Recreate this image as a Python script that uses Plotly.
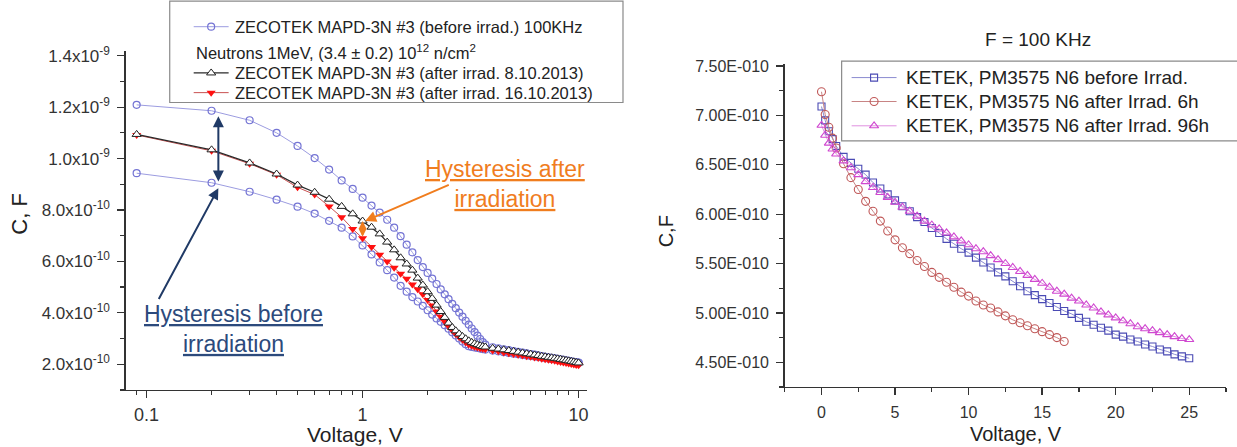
import math
import plotly.graph_objects as go

W, H = 1237, 447

# ---------------- data: left chart (ZECOTEK MAPD-3N), capacitance in pF ----------------
V_left = [0.09, 0.2, 0.3, 0.4, 0.5, 0.6, 0.7, 0.8, 0.9,
          1.0, 1.1, 1.2, 1.3, 1.4, 1.5, 1.6, 1.7, 1.8, 1.9, 2.0, 2.1, 2.2, 2.3, 2.4,
          2.5, 2.6, 2.7, 2.8, 2.9, 3.0, 3.1, 3.2, 3.3, 3.4, 3.5, 3.6, 3.7,
          4.0, 4.25, 4.5, 4.75, 5.0, 5.25, 5.5, 5.75, 6.0, 6.25, 6.5, 6.75, 7.0,
          7.25, 7.5, 7.75, 8.0, 8.25, 8.5, 8.75, 9.0, 9.25, 9.5, 9.75, 10.0]

C_before_up_pF = [1209, 1186, 1149, 1100, 1049, 1002, 957, 915, 882,
                  848, 817, 790, 762, 731, 698, 665, 635, 605, 578, 555, 533, 512, 491, 472,
                  453, 435, 418, 401, 385, 369, 354, 339, 325, 311, 298, 286, 276,
                  266, 262, 258, 255, 251, 248, 245, 242, 239, 237, 234, 232, 229,
                  227, 225, 223, 221, 219, 217, 215, 213, 211, 209, 208, 206]

C_before_down_pF = [943, 906, 871, 840, 813, 786, 758, 731, 697,
                    662, 627, 596, 566, 537, 505, 482, 461, 444, 427, 410, 393, 378, 365, 352,
                    338, 324, 312, 300, 288, 278, 270, 267, 265, 263, 261, 259, 257,
                    253, 250, 247, 244, 241, 239, 236, 234, 232, 230, 228, 226, 224,
                    222, 220, 219, 217, 215, 214, 212, 211, 209, 208, 206, 205]

C_after_0810_pF = [1094, 1034, 983, 940, 897, 869, 842, 814, 785,
                   757, 733, 707, 675, 645, 614, 590, 566, 535, 508, 482, 456, 430, 405, 382,
                   360, 343, 330, 318, 308, 299, 291, 285, 280, 276, 272, 269, 267,
                   262, 259, 256, 253, 250, 247, 244, 241, 239, 236, 234, 231, 229,
                   227, 225, 223, 221, 219, 217, 215, 213, 211, 209, 207, 205]

C_after_1610_pF = [1092, 1030, 980, 937, 888, 860, 814, 772, 726,
                   690, 656, 626, 600, 575, 552, 532, 510, 492, 472, 450, 428, 405, 385, 366,
                   348, 332, 318, 306, 295, 285, 277, 272, 268, 265, 262, 260, 258,
                   253, 250, 246, 243, 240, 237, 234, 231, 229, 226, 224, 221, 219,
                   217, 215, 213, 211, 209, 207, 205, 203, 201, 199, 197, 196]

left_ytick_vals = [2e-10, 4e-10, 6e-10, 8e-10, 1.0e-9, 1.2e-9, 1.4e-9]
left_ytick_text = ["2.0x10<sup>-10</sup>", "4.0x10<sup>-10</sup>", "6.0x10<sup>-10</sup>",
                   "8.0x10<sup>-10</sup>", "1.0x10<sup>-9</sup>", "1.2x10<sup>-9</sup>",
                   "1.4x10<sup>-9</sup>"]
left_xtick_vals = [0.1, 1, 10]
left_xtick_text = ["0.1", "1", "10"]
left_xminor = [0.09, 0.2, 0.3, 0.4, 0.5, 0.6, 0.7, 0.8, 0.9, 2, 3, 4, 5, 6, 7, 8, 9]

left_legend_names = ["ZECOTEK MAPD-3N #3 (before irrad.) 100KHz",
                     "Neutrons 1MeV, (3.4 ± 0.2) 10<sup>12</sup> n/cm<sup>2</sup>",
                     "ZECOTEK MAPD-3N #3 (after irrad. 8.10.2013)",
                     "ZECOTEK MAPD-3N #3 (after irrad. 16.10.2013)"]

# ---------------- data: right chart (KETEK PM3575 N6), capacitance in 1e-10 F ----------------
V_right = [0, 0.25, 0.5, 0.75, 1.0, 1.5, 2.0, 2.5, 3.0, 3.5, 4.0, 4.5, 5.0, 5.5, 6.0, 6.5,
           7.0, 7.5, 8.0, 8.5, 9.0, 9.5, 10.0, 10.5, 11.0, 11.5, 12.0, 12.5, 13.0, 13.5,
           14.0, 14.5, 15.0, 15.5, 16.0, 16.5, 17.0, 17.5, 18.0, 18.5, 19.0, 19.5, 20.0,
           20.5, 21.0, 21.5, 22.0, 22.5, 23.0, 23.5, 24.0, 24.5, 25.0]

C_ketek_before = [7.09, 6.95, 6.84, 6.76, 6.69, 6.58, 6.52, 6.46, 6.40, 6.32, 6.26, 6.20,
                  6.14, 6.08, 6.03, 5.97, 5.92, 5.86, 5.81, 5.75, 5.70, 5.65, 5.61, 5.56,
                  5.51, 5.46, 5.41, 5.37, 5.32, 5.27, 5.22, 5.18, 5.14, 5.10, 5.06, 5.02,
                  4.99, 4.95, 4.91, 4.88, 4.85, 4.82, 4.78, 4.76, 4.73, 4.71, 4.68, 4.66,
                  4.63, 4.61, 4.58, 4.56, 4.54]

C_ketek_6h = [7.24, 7.01, 6.88, 6.77, 6.67, 6.51, 6.37, 6.25, 6.13, 6.03, 5.93, 5.83,
              5.74, 5.66, 5.60, 5.53, 5.47, 5.41, 5.36, 5.31, 5.26, 5.21, 5.17, 5.12,
              5.08, 5.05, 5.01, 4.97, 4.93, 4.90, 4.87, 4.84, 4.81, 4.78, 4.75, 4.71]

C_ketek_96h = [6.90, 6.80, 6.72, 6.66, 6.61, 6.54, 6.47, 6.40, 6.33, 6.27, 6.22, 6.17,
               6.12, 6.07, 6.03, 5.98, 5.93, 5.89, 5.85, 5.81, 5.77, 5.73, 5.69, 5.65,
               5.62, 5.58, 5.54, 5.50, 5.46, 5.42, 5.38, 5.34, 5.30, 5.26, 5.22, 5.19,
               5.15, 5.12, 5.08, 5.05, 5.01, 4.98, 4.95, 4.92, 4.89, 4.86, 4.84, 4.82,
               4.80, 4.78, 4.76, 4.74, 4.73]

right_ytick_vals = [4.5e-10, 5.0e-10, 5.5e-10, 6.0e-10, 6.5e-10, 7.0e-10, 7.5e-10]
right_ytick_text = ["4.50E-010", "5.00E-010", "5.50E-010", "6.00E-010",
                    "6.50E-010", "7.00E-010", "7.50E-010"]

right_legend_names = ["KETEK, PM3575 N6 before Irrad.",
                      "KETEK, PM3575 N6 after Irrad. 6h",
                      "KETEK, PM3575 N6 after Irrad. 96h"]

# ---------------- helpers ----------------
def px(x):
    return x / W

def py(y):
    return 1 - y / H

pF = 1e-12
E10 = 1e-10
FONT = "Liberation Sans, Arial, sans-serif"
AX = "#333333"
TXT = "#222222"

# series styles
ST_BEFORE = dict(line=dict(color="#9c9ce0", width=1),
                 marker=dict(symbol="circle-open", size=7, color="#7474d4", line=dict(width=1.2)))
ST_0810 = dict(line=dict(color="#2a2a2a", width=1.3),
               marker=dict(symbol="triangle-up", size=8, color="white",
                           line=dict(color="#222222", width=1)))
ST_1610 = dict(line=dict(color="#c85050", width=1),
               marker=dict(symbol="triangle-down", size=8, color="#ff1010", line=dict(width=0)))
ST_K0 = dict(line=dict(color="#8a8ad0", width=1),
             marker=dict(symbol="square-open", size=7, color="#4a4ab4", line=dict(width=1.1)))
ST_K6 = dict(line=dict(color="#c88484", width=1),
             marker=dict(symbol="circle-open", size=8, color="#c05858", line=dict(width=1.1)))
ST_K96 = dict(line=dict(color="#e090e0", width=1),
              marker=dict(symbol="triangle-up-open", size=8, color="#d048d0", line=dict(width=1.1)))

fig = go.Figure()

# ---------------- left traces ----------------
fig.add_trace(go.Scatter(
    x=V_left + V_left[::-1],
    y=[c * pF for c in C_before_up_pF] + [c * pF for c in C_before_down_pF[::-1]],
    mode="lines+markers", name=left_legend_names[0], xaxis="x", yaxis="y", **ST_BEFORE))
fig.add_trace(go.Scatter(
    x=V_left, y=[c * pF for c in C_after_1610_pF], mode="lines+markers",
    name=left_legend_names[3], xaxis="x", yaxis="y", **ST_1610))
fig.add_trace(go.Scatter(
    x=V_left, y=[c * pF for c in C_after_0810_pF], mode="lines+markers",
    name=left_legend_names[2], xaxis="x", yaxis="y", **ST_0810))

# ---------------- right traces ----------------
fig.add_trace(go.Scatter(
    x=V_right, y=[c * E10 for c in C_ketek_before], mode="lines+markers",
    name=right_legend_names[0], xaxis="x2", yaxis="y2", **ST_K0))
fig.add_trace(go.Scatter(
    x=V_right[:len(C_ketek_6h)], y=[c * E10 for c in C_ketek_6h], mode="lines+markers",
    name=right_legend_names[1], xaxis="x2", yaxis="y2", **ST_K6))
fig.add_trace(go.Scatter(
    x=V_right, y=[c * E10 for c in C_ketek_96h], mode="lines+markers",
    name=right_legend_names[2], xaxis="x2", yaxis="y2", **ST_K96))

# ---------------- legend keys (drawn on a pixel overlay axis) ----------------
def legend_key(xl0, xl1, ypix, style):
    fig.add_trace(go.Scatter(x=[xl0, xl1], y=[ypix, ypix], mode="lines",
                             line=style["line"], xaxis="x3", yaxis="y3",
                             hoverinfo="skip", showlegend=False))
    fig.add_trace(go.Scatter(x=[(xl0 + xl1) / 2], y=[ypix], mode="markers",
                             marker=style["marker"], xaxis="x3", yaxis="y3",
                             hoverinfo="skip", showlegend=False))

LROWS = [20, 47, 67, 87]
legend_key(194, 229, LROWS[0], ST_BEFORE)
legend_key(194, 229, LROWS[2], ST_0810)
legend_key(194, 229, LROWS[3], ST_1610)
RROWS = [71.7, 96, 120.7]
legend_key(853, 898, RROWS[0], ST_K0)
legend_key(853, 898, RROWS[1], ST_K6)
legend_key(853, 898, RROWS[2], ST_K96)

for tr in fig.data:
    tr.showlegend = False

# ---------------- axes ----------------
common = dict(showline=True, linecolor=AX, linewidth=1.5, ticks="outside",
              ticklen=7, tickwidth=1.3, tickcolor=AX, showgrid=False,
              zeroline=False, mirror=False)
minor_common = dict(ticks="outside", ticklen=4, tickwidth=1.2, tickcolor=AX, showgrid=False)

fig.update_layout(
    width=W, height=H, margin=dict(l=0, r=0, t=0, b=0),
    paper_bgcolor="white", plot_bgcolor="rgba(0,0,0,0)", showlegend=False,
    xaxis=dict(type="log", domain=[px(126), px(588)], range=[-1.096, 1.039],
               anchor="y", tickmode="array", tickvals=left_xtick_vals,
               ticktext=left_xtick_text, ticklabelstandoff=1,
               tickfont=dict(family=FONT, size=18, color=AX),
               minor=dict(tickmode="array", tickvals=left_xminor, **minor_common),
               **common),
    yaxis=dict(domain=[py(389), py(44.3)], range=[1.0e-10, 1.42e-9], anchor="x",
               tickmode="array", tickvals=left_ytick_vals, ticktext=left_ytick_text,
               tickfont=dict(family=FONT, size=17, color=AX), ticklabelstandoff=4,
               minor=dict(tickmode="linear", tick0=0, dtick=1e-10, **minor_common),
               **common),
    xaxis2=dict(domain=[px(786), px(1228)], range=[-2.5, 27.5], anchor="y2",
                tickmode="linear", tick0=0, dtick=5, ticklabelstandoff=3,
                tickfont=dict(family=FONT, size=16, color=AX),
                minor=dict(tickmode="linear", tick0=0, dtick=2.5, **minor_common),
                **common),
    yaxis2=dict(domain=[py(386), py(58)], range=[4.25e-10, 7.52e-10], anchor="x2",
                tickmode="array", tickvals=right_ytick_vals, ticktext=right_ytick_text,
                tickfont=dict(family=FONT, size=16, color=AX), ticklabelstandoff=4,
                minor=dict(tickmode="linear", tick0=0, dtick=0.25e-10, **minor_common),
                **common),
    xaxis3=dict(domain=[0, 1], range=[0, W], visible=False, fixedrange=True, anchor="y3"),
    yaxis3=dict(domain=[0, 1], range=[H, 0], visible=False, fixedrange=True, anchor="x3"),
)

# legend frames
fig.add_shape(type="rect", xref="paper", yref="paper",
              x0=px(170), x1=px(624), y0=py(97), y1=py(-6),
              line=dict(color="#8a8a8a", width=1.2), fillcolor="rgba(0,0,0,0)")
fig.add_shape(type="rect", xref="paper", yref="paper",
              x0=px(843), x1=px(1262), y0=py(136), y1=py(55),
              line=dict(color="#8a8a8a", width=1.2), fillcolor="rgba(0,0,0,0)")

ann = []
LF = dict(family=FONT, size=16.5, color=TXT)
RF = dict(family=FONT, size=19, color=TXT)
for name, row in zip([left_legend_names[0], left_legend_names[2], left_legend_names[3]],
                     [LROWS[0], LROWS[2], LROWS[3]]):
    ann.append(dict(xref="paper", yref="paper", x=px(233), y=py(row), xanchor="left",
                    yanchor="middle", showarrow=False, text=name, font=LF))
ann.append(dict(xref="paper", yref="paper", x=px(194), y=py(LROWS[1] - 1), xanchor="left",
                yanchor="middle", showarrow=False, text=left_legend_names[1], font=LF))
for name, row in zip(right_legend_names, RROWS):
    ann.append(dict(xref="paper", yref="paper", x=px(905), y=py(row), xanchor="left",
                    yanchor="middle", showarrow=False, text=name, font=RF))

# axis titles and chart title
def label(x, y, text, size, angle=0, color=TXT):
    ann.append(dict(xref="paper", yref="paper", x=px(x), y=py(y), xanchor="center",
                    yanchor="middle", showarrow=False, textangle=angle, text=text,
                    font=dict(family=FONT, size=size, color=color)))

label(356, 434, "Voltage, V", 21)
label(1018, 434, "Voltage, V", 20)
label(20, 210, "C, F", 22, -90)
label(668, 228, "C,F", 20, -90)
label(1040, 33, "F = 100 KHz", 19)

NAVY = "#203a66"
NAVY_T = "#2c4a7c"
ORANGE = "#f07d1e"
U = '<span style="text-decoration:underline">%s</span>'
label(234, 327, U % "Hysteresis before" + "<br>" + U % "irradiation", 23, color=NAVY_T)
label(506, 180, U % "Hysteresis after" + "<br>" + U % "irradiation", 23, color=ORANGE)

# arrows (data coordinates)
i1 = V_left.index(1.0)
ann.append(dict(xref="x", yref="y", axref="x", ayref="y",
                x=math.log10(0.215), y=1.165e-9, ax=math.log10(0.215), ay=0.905e-9,
                showarrow=True, arrowhead=2, startarrowhead=2, arrowside="end+start",
                arrowsize=1.1, startarrowsize=1.1, arrowwidth=2, arrowcolor=NAVY, text=""))
ann.append(dict(xref="x", yref="y", axref="x", ayref="y",
                x=math.log10(0.215), y=0.885e-9, ax=-0.947, ay=0.448e-9,
                showarrow=True, arrowhead=2, arrowsize=1.1, arrowwidth=2,
                arrowcolor=NAVY, text=""))
ann.append(dict(xref="x", yref="y", axref="x", ayref="y",
                x=0, y=C_after_0810_pF[i1] * pF, ax=0, ay=C_after_1610_pF[i1] * pF,
                showarrow=True, arrowhead=2, startarrowhead=2, arrowside="end+start",
                arrowsize=0.8, startarrowsize=0.8, arrowwidth=2, arrowcolor=ORANGE, text=""))
ann.append(dict(xref="x", yref="y", axref="x", ayref="y",
                x=0.012, y=C_after_0810_pF[i1] * pF, ax=0.406, ay=0.90e-9,
                showarrow=True, arrowhead=2, arrowsize=1.1, arrowwidth=2,
                arrowcolor=ORANGE, text=""))

fig.update_layout(annotations=ann)
fig.write_html("out.html",
               config={"displayModeBar": False, "staticPlot": True},
               post_script="document.body.style.margin='0px';"
                           "document.body.style.padding='0px';"
                           "document.documentElement.style.overflow='hidden';")
